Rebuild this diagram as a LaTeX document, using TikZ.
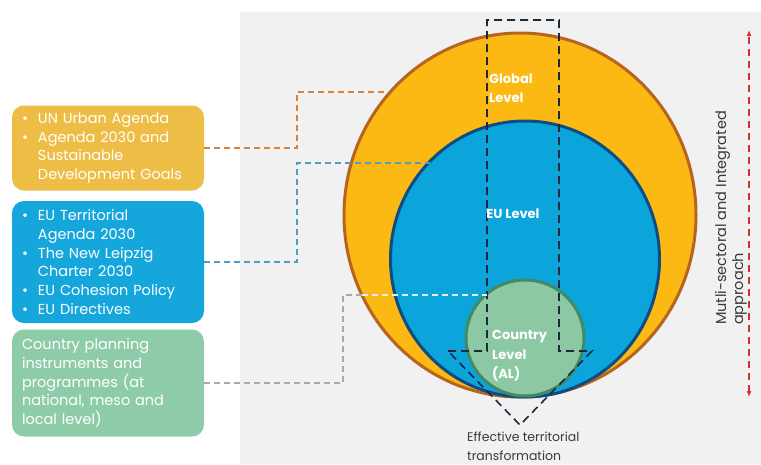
\documentclass[tikz,border=0pt]{standalone}
\usepackage{fontspec}
\setmainfont{Poppins}
\usetikzlibrary{shapes.geometric,arrows.meta}
\definecolor{bggray}{HTML}{F1F1F1}
\definecolor{gfill}{HTML}{FDB913}
\definecolor{gline}{HTML}{B5651D}
\definecolor{efill}{HTML}{0BA5DC}
\definecolor{eline}{HTML}{0F4C81}
\definecolor{cfill}{HTML}{8DC8A5}
\definecolor{cline}{HTML}{3E8B64}
\definecolor{obox}{HTML}{EEBD45}
\definecolor{bbox}{HTML}{15A7DC}
\definecolor{gbox}{HTML}{8ECBA9}
\definecolor{oconn}{HTML}{D9823A}
\definecolor{bconn}{HTML}{4E9DC4}
\definecolor{gconn}{HTML}{A9A9A9}
\definecolor{lconn}{HTML}{E2F0F7}
\definecolor{funnelc}{HTML}{1B2A3A}
\definecolor{txtd}{HTML}{3A3A3A}
\definecolor{redd}{HTML}{D32F2F}
\newcommand{\bul}{\makebox[16pt][l]{\textbullet}}
\newcommand{\ind}{\hspace*{16pt}}
\begin{document}
\begin{tikzpicture}[x=1pt,y=-1pt,
  level/.style={ellipse, inner sep=0pt, line width=3pt},
  srcbox/.style={rounded corners=12pt, minimum width=192pt, text width=172pt, inner xsep=10pt, align=left, text=white, font=\fontsize{14.5}{18.8}\selectfont},
  conn/.style={dash pattern=on 6pt off 4pt, line width=1.4pt},
  lvl/.style={text=white, font=\bfseries\fontsize{13}{19.5}\selectfont, align=left, inner sep=0pt},
  funnel/.style={draw=funnelc, dash pattern=on 8pt off 5pt, line width=1.6pt}
]
\useasboundingbox (0,0) rectangle (761,464);
\fill[white] (0,0) rectangle (761,464);
\fill[bggray] (240,12) rectangle (761,464);

% levels
\node[level, draw=gline, fill=gfill, minimum width=352pt, minimum height=364pt] (glob) at (520,215) {};
\node[level, draw=eline, fill=efill, minimum width=269pt, minimum height=276pt] (eu) at (525,259) {};
\node[level, draw=cline, fill=cfill, minimum width=118pt, minimum height=116pt] (ctry) at (525,338) {};

% funnel
\draw[funnel] (448,351) -- (487,351) -- (487,20) -- (559,20) -- (559,351) -- (592,351) -- (520,425) -- cycle;

% level labels
\node[lvl, anchor=west] (gl) at (489,88) {Global\\Level};
\node[lvl] (el) at (513,214) {EU Level};
\node[lvl, anchor=west] (cl) at (492,356) {Country\\Level\\(AL)};

\node[anchor=west, inner sep=0pt, align=left, text=txtd, font=\fontsize{12.5}{19}\selectfont] (eff) at (467,446) {Effective territorial\\transformation};

% source boxes
\node[srcbox, fill=obox, minimum height=85pt] (unbox) at (108,148)
  {\bul UN Urban Agenda\\\bul Agenda 2030 and\\\ind Sustainable\\\ind Development Goals};
\node[srcbox, fill=bbox, minimum height=122pt] (eubox) at (108,262)
  {\bul EU Territorial\\\ind Agenda 2030\\\bul The New Leipzig\\\ind Charter 2030\\\bul EU Cohesion Policy\\\bul EU Directives};
\node[srcbox, fill=gbox, minimum height=107pt] (cpbox) at (108,383)
  {Country planning\\instruments and\\programmes (at\\national, meso and\\local level)};

% connectors
\coordinate (oBend) at (297,92);
\coordinate (oEnd) at (388,92);
\coordinate (bBend) at (297,163);
\coordinate (bEnd) at (430,163);
\coordinate (gBend) at (343,295);
\coordinate (gMid) at (362,295);
\coordinate (gEnd) at (487,295);
\draw[conn, draw=oconn] (unbox.east) -| (oBend) -- (oEnd);
\draw[conn, draw=bconn] (eubox.east) -| (bBend) -- (bEnd);
\draw[conn, draw=gconn] (cpbox.east) -| (gBend) -- (gMid);
\draw[conn, draw=lconn] (gMid) -- (gEnd);

% multi-sectoral arrow
\coordinate (aTop) at (749,30);
\coordinate (aBot) at (749,397);
\draw[draw=redd, dash pattern=on 7pt off 5pt, line width=1.3pt, {Latex[length=6pt,width=5pt]}-{Latex[length=6pt,width=5pt]}] (aBot) -- (aTop);
\node[rotate=90, align=left, text=txtd, inner sep=0pt, font=\fontsize{14.5}{17}\selectfont] (ms) at (731,218) {Mutli-sectoral and Integrated\\approach};
\end{tikzpicture}
\end{document}
